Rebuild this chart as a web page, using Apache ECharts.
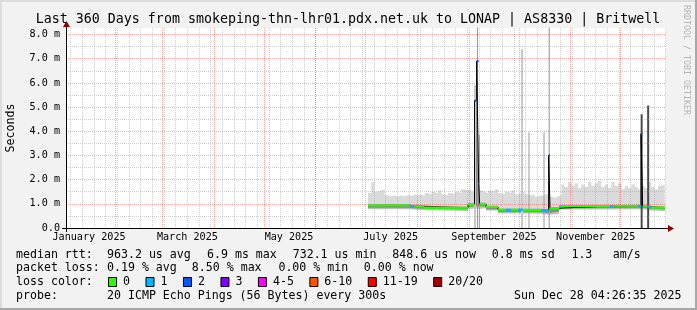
<!DOCTYPE html>
<html><head><meta charset="utf-8">
<script src="https://cdn.jsdelivr.net/npm/echarts@6/dist/echarts.min.js"></script>
<style>html,body{margin:0;padding:0;background:#f2f2f2}#c{width:697px;height:310px}</style>
</head><body><div id="c"></div>
<script>
// ---------- axes / ticks ----------
const windowStart = Date.UTC(2025, 0, 2, 4, 26, 35);   // Last 360 days ending Sun Dec 28 04:26:35 2025
const windowDays = 360;
const yMax = 8.27;
const monthStarts = ['2025-02-01','2025-03-01','2025-04-01','2025-05-01','2025-06-01','2025-07-01',
                     '2025-08-01','2025-09-01','2025-10-01','2025-11-01','2025-12-01'];
const firstWeekStart = '2025-01-05';
const monthLabelDates = ['2025-01-16','2025-03-16','2025-05-16','2025-07-16','2025-09-16','2025-11-16'];
const monthLabels = ['January 2025','March 2025','May 2025','July 2025','September 2025','November 2025'];
const yMajorTicks = [1, 2, 3, 4, 5, 6, 7, 8];
const yMinorTicks = [0.5, 1.5, 2.5, 3.5, 4.5, 5.5, 6.5, 7.5];
const yLabelValues = [0, 1, 2, 3, 4, 5, 6, 7, 8];
const yLabels = ['0.0', '1.0 m', '2.0 m', '3.0 m', '4.0 m', '5.0 m', '6.0 m', '7.0 m', '8.0 m'];

// ---------- data (x = days since window start, y = ms) ----------
// median rtt, piecewise per segment start
const medStart = [181.2, 205.8, 208.8, 214.8, 241.2, 245.1, 246.4, 247.6, 248.2, 252.0, 259.2, 264.0, 267.0, 271.2,
                  274.2, 285.0, 289.6, 290.4, 295.8, 297.0, 326.4, 328.2, 343.2, 345.0, 346.0, 349.0, 351.0];
const medEnd = 359.4;
const medVal   = [0.94, 0.92, 0.90, 0.84, 0.98, 5.27, 6.90, 1.83, 1.00, 0.87, 0.76, 0.76, 0.76, 0.76,
                  0.75, 0.74, 3.00, 0.82, 0.90, 0.91, 0.91, 0.92, 0.92, 3.90, 0.90, 0.88, 0.85];
const medLoss  = [0, 1, 0, 0, 0, 2, 2, 1, 0, 0, 0, 1, 0, 1,
                  0, 1, 2, 0, 1, 0, 1, 0, 1, 2, 0, 1, 0];
// smoke: bottom of dark band and bottom of smoke, per median segment
const smokeDark = [0.84, 0.82, 0.80, 0.76, 0.88, 0.90, 0.90, 0.90, 0.90, 0.78, 0.66, 0.66, 0.66, 0.66,
                   0.65, 0.62, 0.62, 0.68, 0.82, 0.83, 0.83, 0.84, 0.84, 0.82, 0.82, 0.80, 0.76];
const smokeLow  = [0.78, 0.76, 0.74, 0.70, 0.80, 0.80, 0.80, 0.80, 0.82, 0.72, 0.60, 0.60, 0.60, 0.60,
                   0.59, 0.55, 0.55, 0.58, 0.76, 0.77, 0.77, 0.78, 0.78, 0.76, 0.76, 0.72, 0.70];
// upper smoke envelope, one value per 2-day sample starting at day 181.2
const smokeTopStart = 181.2, smokeTopStep = 2;
const smokeTop = [1.45,1.9,1.5,1.55,1.6,1.35,1.3,1.35,1.3,1.35,
                  1.3,1.38,1.32,1.4,1.35,1.4,1.32,1.45,1.38,1.5,
                  1.42,1.55,1.4,1.35,1.45,1.4,1.5,1.45,1.6,1.55,
                  1.6,1.5,1.6,1.55,1.5,1.45,1.55,1.5,1.6,1.45,
                  1.4,1.5,1.45,1.55,1.4,1.45,1.5,1.4,1.35,1.4,
                  1.3,1.35,1.3,1.4,1.3,1.25,1.3,1.35,1.8,1.7,
                  1.9,1.75,1.85,1.65,1.8,1.7,1.9,1.75,1.85,1.95,
                  1.7,1.8,1.65,1.9,1.75,1.85,1.6,1.75,1.65,1.8,
                  1.7,1.6,1.75,1.65,1.9,1.7,1.6,1.75,1.8,1.65];
// smoke spikes (single slots with high pings)
const spikeLightDay = [245.4, 273.6];
const spikeLightTop = [5.9, 7.4];
const spikeMidDay = [246.9, 248.0, 277.8, 286.8, 289.9];
const spikeMidTop = [8.5, 3.85, 3.95, 3.95, 8.5];
const spikeDarkDay = [345.4, 349.3];
const spikeDarkTop = [4.7, 5.07];

// loss legend
const lossLabels = ['0', '1', '2', '3', '4-5', '6-10', '11-19', '20/20'];
const lossColors = ['#26ff00', '#00b8ff', '#0059ff', '#7e00ff', '#ff00ff', '#ff5500', '#ff0000', '#a10000'];
// text
const titleText = 'Last 360 Days from smokeping-thn-lhr01.pdx.net.uk to LONAP | AS8330 | Britwell';
const rttStats = ['median rtt:', '963.2 us avg', '6.9 ms max', '732.1 us min', '848.6 us now', '0.8 ms sd', '1.3', 'am/s'];
const lossStats = ['packet loss:', '0.19 % avg', '8.50 % max', '0.00 % min', '0.00 % now'];
const probeText = ['probe:', '20 ICMP Echo Pings (56 Bytes) every 300s'];
const stampText = 'Sun Dec 28 04:26:35 2025';

// ---------- build ----------
const DAYMS = 86400000;
const toDay = s => (Date.parse(s + 'T00:00:00Z') - windowStart) / DAYMS;
const monthTicks = monthStarts.map(toDay);
const weekTicks = [];
for (let d = toDay(firstWeekStart); d < windowDays; d += 7) weekTicks.push(d);
const labelTicks = monthLabelDates.map(toDay);

function segEnd(i) { return i + 1 < medStart.length ? medStart[i + 1] : medEnd; }
function stepPts(vals) {
  const p = [];
  for (let i = 0; i < medStart.length; i++) p.push([medStart[i], vals[i]], [segEnd(i), vals[i]]);
  return p;
}
function lossPts(level) {
  const p = [];
  for (let i = 0; i < medStart.length; i++) if (medLoss[i] === level) p.push([medStart[i], medVal[i]], [segEnd(i), medVal[i]], null);
  return p;
}
const topPts = [];
smokeTop.forEach((v, i) => {
  const s = smokeTopStart + i * smokeTopStep;
  topPts.push([s, v], [Math.min(s + smokeTopStep, medEnd), v]);
});
function spikePts(days, tops) {
  const p = [];
  days.forEach((d, i) => p.push([d, 0], [d, tops[i]], null));
  return p;
}
function area(data, color) {
  return { type: 'line', data, symbol: 'none', silent: true, z: 1, lineStyle: { width: 0, opacity: 0 },
           areaStyle: { color, opacity: 1 }, animation: false };
}
function lines(data, color, width, z) {
  return { type: 'line', data, symbol: 'none', silent: true, z, connectNulls: false,
           lineStyle: { color, width }, animation: false };
}

const series = [
  area(topPts, '#dadada'),
  lines(spikePts(spikeLightDay, spikeLightTop), '#c8c8c8', 2, 1),
  lines(spikePts(spikeMidDay, spikeMidTop), '#9a9a9a', 1, 1),
  lines(spikePts(spikeDarkDay, spikeDarkTop), '#4a4a4a', 2, 1),
  area(stepPts(medVal), '#8a8a8a'),
  area(stepPts(smokeDark), '#bdbdbd'),
  area(stepPts(smokeLow), '#ffffff'),
  lines(stepPts(medVal), '#000000', 1, 4)
];
[0, 1, 2].forEach(l => series.push(lines(lossPts(l), lossColors[l], 2.2, 5)));

const FONT = 'DejaVu Sans Mono';
const gridGrey = 'rgba(150,150,150,0.45)';
const gridRed = 'rgba(255,0,0,0.35)';
const xBase = { type: 'value', min: 0, max: windowDays, gridIndex: 0, z: 3,
  axisLine: { show: false }, axisLabel: { show: false } };
const yBase = { type: 'value', min: 0, max: yMax, gridIndex: 0, z: 3, position: 'left',
  axisLine: { show: false }, axisLabel: { show: false } };

// graphic decorations and legend text
const graphic = [
  { type: 'rect', shape: { x: 0, y: 0, width: 697, height: 2 }, style: { fill: '#dcdcdc' }, silent: true },
  { type: 'rect', shape: { x: 0, y: 0, width: 2, height: 310 }, style: { fill: '#dcdcdc' }, silent: true },
  { type: 'rect', shape: { x: 695, y: 0, width: 2, height: 310 }, style: { fill: '#a8a8a8' }, silent: true },
  { type: 'rect', shape: { x: 0, y: 308, width: 697, height: 2 }, style: { fill: '#a8a8a8' }, silent: true },
  { type: 'text', x: 348, y: 19.5, silent: true,
    style: { text: titleText, font: '13.3px ' + FONT, fill: '#000', align: 'center', verticalAlign: 'middle' } },
  { type: 'text', x: 686, y: 5, rotation: -Math.PI / 2, silent: true,
    style: { text: 'RRDTOOL / TOBI OETIKER', font: '8.3px ' + FONT, fill: '#b4b4b4', align: 'left', verticalAlign: 'middle' } },
  { type: 'text', x: 11, y: 128, rotation: Math.PI / 2, silent: true,
    style: { text: 'Seconds', font: '11.6px ' + FONT, fill: '#000', align: 'center', verticalAlign: 'middle' } },
  // axis extensions and arrows
  { type: 'line', shape: { x1: 62, y1: 228.5, x2: 670, y2: 228.5 }, style: { stroke: '#000', lineWidth: 1 }, silent: true, z: 10 },
  { type: 'line', shape: { x1: 66.5, y1: 232, x2: 66.5, y2: 24 }, style: { stroke: '#000', lineWidth: 1 }, silent: true, z: 10 },
  { type: 'polygon', shape: { points: [[668, 225], [674, 228.5], [668, 232]] }, style: { fill: '#8b0000' }, silent: true, z: 10 },
  { type: 'polygon', shape: { points: [[63, 27], [66.5, 21], [70, 27]] }, style: { fill: '#8b0000' }, silent: true, z: 10 }
];
function txt(t, x, y, align) {
  graphic.push({ type: 'text', x, y, silent: true,
    style: { text: t, font: '11.6px ' + FONT, fill: '#000', align: align || 'left', verticalAlign: 'middle' } });
}
const rttX = [16, 107, 207, 292.7, 392.3, 491.8, 571.4, 612.7];
rttStats.forEach((t, i) => txt(t, rttX[i], 254.5));
const lossX = [16, 107, 191.8, 278.4, 363.8];
lossStats.forEach((t, i) => txt(t, lossX[i], 268.4));
txt('loss color:', 16, 282.3);
let bx = 108;
lossLabels.forEach((l, i) => {
  graphic.push({ type: 'rect', shape: { x: bx + 0.5, y: 277.5, width: 8, height: 9 },
    style: { fill: lossColors[i], stroke: '#000', lineWidth: 1 }, silent: true });
  txt(l, bx + 15, 282.3);
  bx = bx + 15.5 + l.length * 6.98 + 15;
});
txt(probeText[0], 16, 296);
txt(probeText[1], 107, 296);
txt(stampText, 681.5, 296, 'right');

const chart = echarts.init(document.getElementById('c'), null, { renderer: 'canvas' });
chart.setOption({
  backgroundColor: '#f2f2f2',
  animation: false,
  textStyle: { fontFamily: FONT },
  grid: { left: 66, top: 28, width: 600, height: 200, show: true, backgroundColor: '#ffffff', borderWidth: 0,
          containLabel: false, outerBoundsMode: 'none' },
  xAxis: [
    Object.assign({}, xBase, { position: 'top', axisTick: { show: false, customValues: weekTicks },
      splitLine: { show: true, lineStyle: { color: gridGrey, width: 1, type: [1, 1] } } }),
    Object.assign({}, xBase, { position: 'bottom', axisTick: { show: false, customValues: monthTicks },
      splitLine: { show: true, lineStyle: { color: gridRed, width: 1, type: [1, 1] } } }),
    Object.assign({}, xBase, { position: 'bottom', axisLine: { show: true, lineStyle: { color: '#000', width: 1 } },
      axisTick: { show: false, customValues: labelTicks }, splitLine: { show: false },
      axisLabel: { show: true, customValues: labelTicks, margin: 4, fontFamily: FONT, fontSize: 10.15, color: '#000',
        formatter: v => { const i = labelTicks.findIndex(t => Math.abs(t - v) < 1e-6); return i >= 0 ? monthLabels[i] : ''; } } })
  ],
  yAxis: [
    Object.assign({}, yBase, { axisTick: { show: false, customValues: yMinorTicks },
      splitLine: { show: true, lineStyle: { color: gridGrey, width: 1, type: [1, 1] } } }),
    Object.assign({}, yBase, { axisLine: { show: true, lineStyle: { color: '#000', width: 1 } },
      axisTick: { show: false, customValues: yMajorTicks },
      splitLine: { show: true, lineStyle: { color: gridRed, width: 1, type: [1, 1] } },
      axisLabel: { show: true, customValues: yLabelValues, margin: 6, fontFamily: FONT, fontSize: 10.15, color: '#000',
        formatter: v => { const i = yLabelValues.findIndex(t => Math.abs(t - v) < 1e-6); return i >= 0 ? yLabels[i] : ''; } } })
  ],
  series,
  graphic
});
</script></body></html>
